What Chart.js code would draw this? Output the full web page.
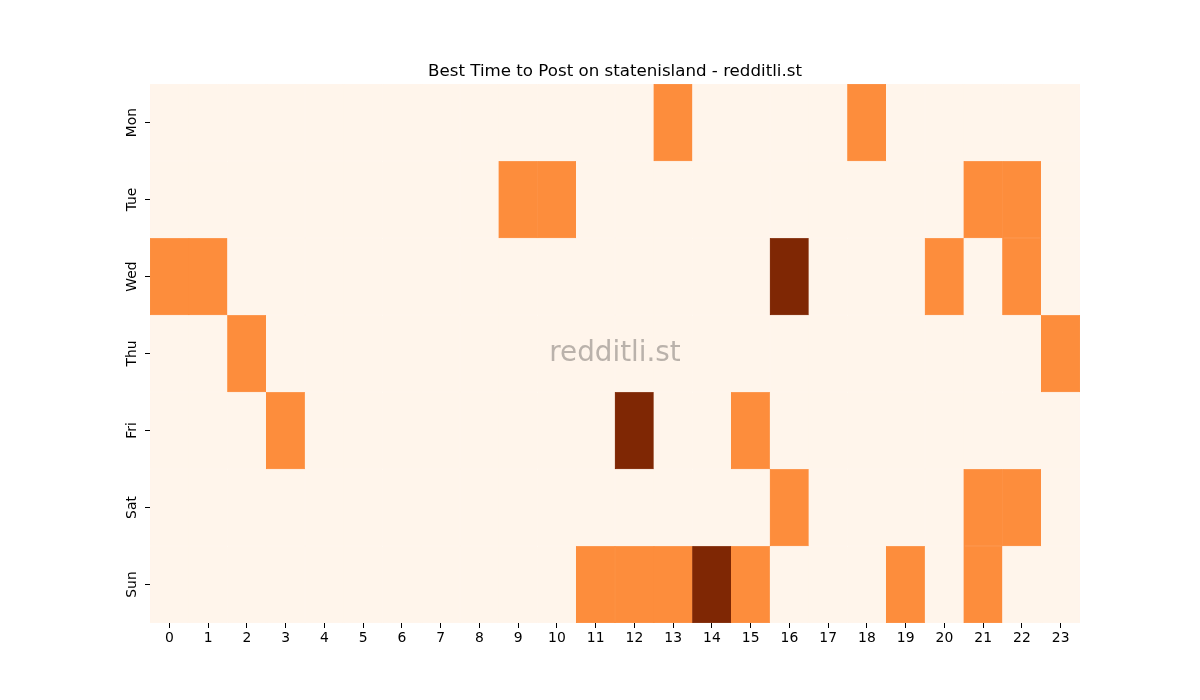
<!DOCTYPE html>
<html>
<head>
<meta charset="utf-8">
<script src="https://cdn.jsdelivr.net/npm/chart.js@4/dist/chart.umd.min.js"></script>
<style>
  html, body { margin: 0; padding: 0; background: #ffffff; }
  canvas { display: block; }
</style>
</head>
<body>
<canvas id="c" width="1200" height="700"></canvas>
<script>
const days = ['Mon', 'Tue', 'Wed', 'Thu', 'Fri', 'Sat', 'Sun'];
const hours = ['0','1','2','3','4','5','6','7','8','9','10','11','12','13','14','15','16','17','18','19','20','21','22','23'];
const mon = [0,0,0,0,0,0,0,0,0,0,0,0,0,1,0,0,0,0,1,0,0,0,0,0];
const tue = [0,0,0,0,0,0,0,0,0,1,1,0,0,0,0,0,0,0,0,0,0,1,1,0];
const wed = [1,1,0,0,0,0,0,0,0,0,0,0,0,0,0,0,2,0,0,0,1,0,1,0];
const thu = [0,0,1,0,0,0,0,0,0,0,0,0,0,0,0,0,0,0,0,0,0,0,0,1];
const fri = [0,0,0,1,0,0,0,0,0,0,0,0,2,0,0,1,0,0,0,0,0,0,0,0];
const sat = [0,0,0,0,0,0,0,0,0,0,0,0,0,0,0,0,1,0,0,0,0,1,1,0];
const sun = [0,0,0,0,0,0,0,0,0,0,0,1,1,1,2,1,0,0,0,1,0,1,0,0];
const rows = [mon, tue, wed, thu, fri, sat, sun];
const palette = ['#fff5eb', '#fd8d3c', '#7f2704'];

const FONT = "'DejaVu Sans', sans-serif";

const datasets = rows.map((vals, r) => ({
  label: days[r],
  data: vals.map(() => [r - 0.5, r + 0.5]),
  backgroundColor: vals.map(v => palette[v]),
  borderColor: vals.map(v => palette[v]),
  borderWidth: 0.5,
  borderSkipped: false,
  grouped: false,
  categoryPercentage: 1.0,
  barPercentage: 1.0
}));

const watermark = {
  id: 'watermark',
  afterDatasetsDraw(chart) {
    const a = chart.chartArea;
    const ctx = chart.ctx;
    ctx.save();
    ctx.font = "27.8px " + FONT;
    ctx.fillStyle = '#bab2ab';
    ctx.textAlign = 'center';
    ctx.textBaseline = 'middle';
    ctx.fillText('redditli.st', (a.left + a.right) / 2, (a.top + a.bottom) / 2);
    ctx.restore();
  }
};

new Chart(document.getElementById('c'), {
  type: 'bar',
  data: { labels: hours, datasets },
  plugins: [watermark],
  options: {
    responsive: false,
    animation: false,
    layout: { padding: { left: 30, right: 0, top: 0, bottom: 0 } },
    plugins: {
      legend: { display: false },
      tooltip: { enabled: false },
      title: {
        display: true,
        text: 'Best Time to Post on statenisland - redditli.st',
        color: '#000000',
        font: { family: FONT, size: 16.67, weight: 'normal' },
        padding: { top: 61.5, bottom: 2.5 }
      }
    },
    scales: {
      x: {
        type: 'category',
        offset: true,
        grid: { display: true, drawOnChartArea: false, drawTicks: true, tickLength: 5, color: '#000000', offset: false },
        border: { display: false },
        ticks: { color: '#000000', font: { family: FONT, size: 13.9 }, padding: 2, maxRotation: 0, minRotation: 0, autoSkip: false },
        afterFit(scale) { scale.height = 77; }
      },
      y: {
        type: 'linear',
        reverse: true,
        min: -0.5,
        max: 6.5,
        afterBuildTicks(scale) { scale.ticks = days.map((d, i) => ({ value: i })); },
        grid: { display: true, drawOnChartArea: false, drawTicks: true, tickLength: 5, color: '#000000' },
        border: { display: false },
        ticks: {
          color: '#000000',
          font: { family: FONT, size: 13.9 },
          padding: -3,
          crossAlign: 'center',
          minRotation: 90,
          maxRotation: 90,
          autoSkip: false,
          callback: (v) => days[v]
        },
        afterFit(scale) { scale.width = 120; }
      },
      yRight: {
        type: 'linear',
        position: 'right',
        display: true,
        grid: { display: false },
        border: { display: false },
        ticks: { display: false },
        afterFit(scale) { scale.width = 120; }
      }
    }
  }
});
</script>
</body>
</html>
